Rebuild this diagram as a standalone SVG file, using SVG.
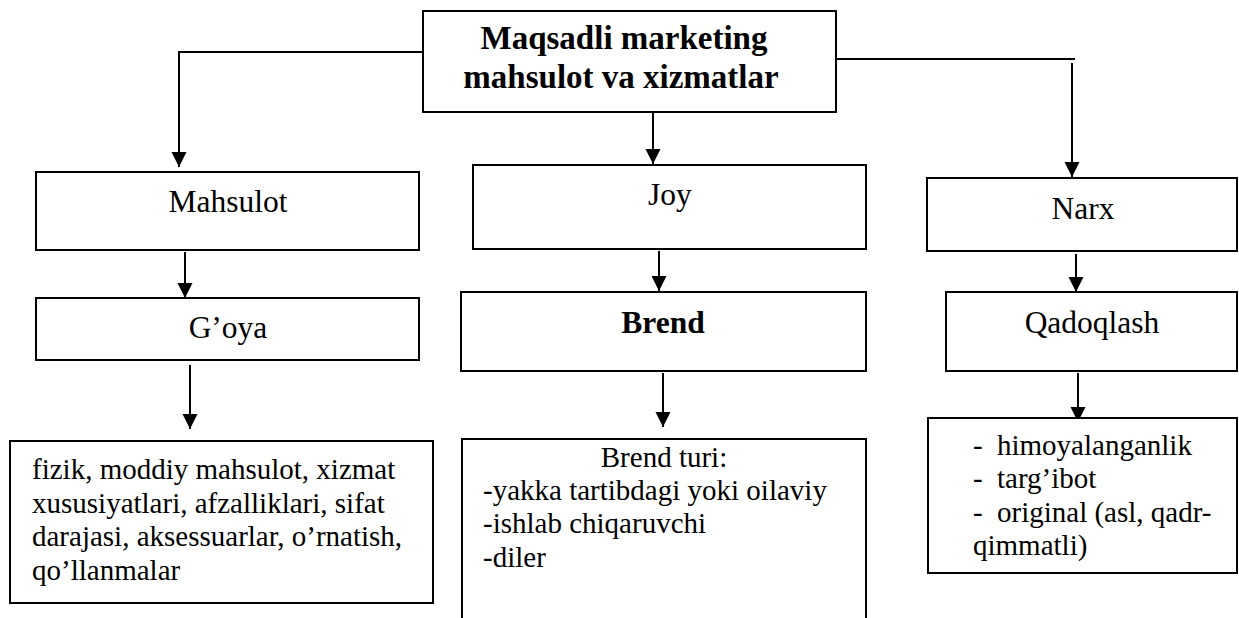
<svg xmlns="http://www.w3.org/2000/svg" width="1239" height="618" viewBox="0 0 1239 618">
<style>
.box{fill:#fff;stroke:#000;stroke-width:2}
.lbl{font-family:"Liberation Serif","Times New Roman",serif;font-size:31.5px;fill:#000;text-anchor:middle}
.b{font-weight:bold}
.title{font-size:33px}
.body{font-family:"Liberation Serif","Times New Roman",serif;font-size:29px;fill:#000}
.con{fill:none;stroke:#000;stroke-width:2}
</style>
<defs>
<marker id="ah" markerUnits="userSpaceOnUse" markerWidth="16" markerHeight="16" refX="15" refY="7.5" orient="auto">
<path d="M0,0 L15,7.5 L0,15 z" fill="#000"/>
</marker>
</defs>
<rect width="1239" height="618" fill="#fff"/>
<g id="connectors">
<polyline class="con" points="423,52 179,52 179,167" marker-end="url(#ah)"/>
<line class="con" x1="653" y1="105" x2="653" y2="164" marker-end="url(#ah)"/>
<line class="con" x1="832" y1="59" x2="1075" y2="59"/>
<line class="con" x1="1072" y1="63" x2="1072" y2="177" marker-end="url(#ah)"/>
<line class="con" x1="185" y1="252" x2="185" y2="298" marker-end="url(#ah)"/>
<line class="con" x1="190" y1="365" x2="190" y2="429" marker-end="url(#ah)"/>
<line class="con" x1="659" y1="251" x2="659" y2="291" marker-end="url(#ah)"/>
<line class="con" x1="663" y1="373" x2="663" y2="427" marker-end="url(#ah)"/>
<line class="con" x1="1076" y1="254" x2="1076" y2="292" marker-end="url(#ah)"/>
<line class="con" x1="1078" y1="373" x2="1078" y2="422" marker-end="url(#ah)"/>
</g>
<g id="top">
<rect class="box" x="423" y="11" width="413" height="101"/>
<text class="lbl b title" x="624" y="49">Maqsadli marketing</text>
<text class="lbl b title" x="621" y="88">mahsulot va xizmatlar</text>
</g>
<g id="mahsulot">
<rect class="box" x="36" y="172" width="383" height="78"/>
<text class="lbl" x="228" y="212">Mahsulot</text>
</g>
<g id="goya">
<rect class="box" x="36" y="298" width="383" height="62"/>
<text class="lbl" x="228" y="338">G’oya</text>
</g>
<g id="goya-detail">
<rect class="box" x="10" y="441" width="423" height="162"/>
<text class="body" x="32" y="479">fizik, moddiy mahsulot, xizmat</text>
<text class="body" x="32" y="513">xususiyatlari, afzalliklari, sifat</text>
<text class="body" x="32" y="546">darajasi, aksessuarlar, o’rnatish,</text>
<text class="body" x="32" y="580">qo’llanmalar</text>
</g>
<g id="joy">
<rect class="box" x="473" y="165" width="393" height="84"/>
<text class="lbl" x="670" y="205">Joy</text>
</g>
<g id="brend">
<rect class="box" x="461" y="292" width="405" height="79"/>
<text class="lbl b" x="663" y="333">Brend</text>
</g>
<g id="brend-detail">
<rect class="box" x="462" y="439" width="404" height="185"/>
<text class="body" x="664" y="467" text-anchor="middle">Brend turi:</text>
<text class="body" x="483" y="500">-yakka tartibdagi yoki oilaviy</text>
<text class="body" x="483" y="533">-ishlab chiqaruvchi</text>
<text class="body" x="483" y="567">-diler</text>
</g>
<g id="narx">
<rect class="box" x="927" y="178" width="310" height="73"/>
<text class="lbl" x="1083" y="219">Narx</text>
</g>
<g id="qadoqlash">
<rect class="box" x="946" y="292" width="291" height="79"/>
<text class="lbl" x="1092" y="333">Qadoqlash</text>
</g>
<g id="qadoqlash-detail">
<rect class="box" x="928" y="418" width="309" height="155"/>
<text class="body" y="455"><tspan x="973">-</tspan><tspan x="997">himoyalanganlik</tspan></text>
<text class="body" y="488"><tspan x="973">-</tspan><tspan x="997">targ’ibot</tspan></text>
<text class="body" y="522"><tspan x="973">-</tspan><tspan x="997">original (asl, qadr-</tspan></text>
<text class="body" x="973" y="555">qimmatli)</text>
</g>
</svg>
